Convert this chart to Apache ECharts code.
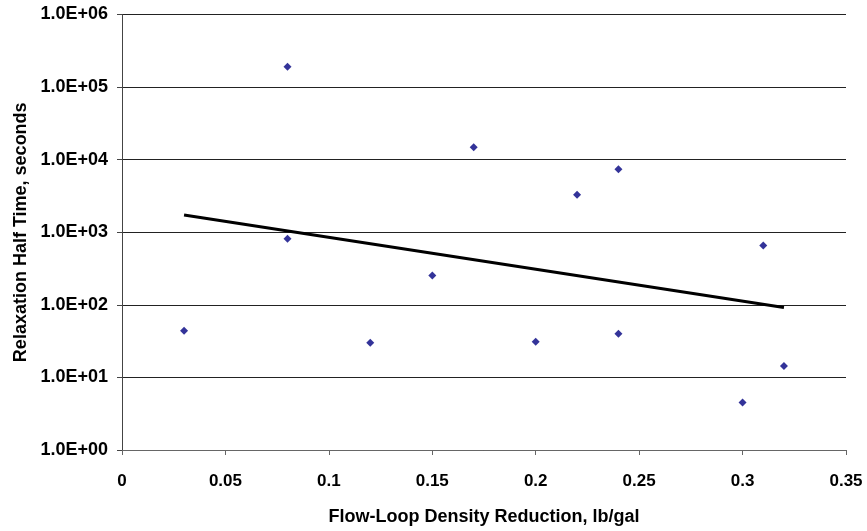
<!DOCTYPE html>
<html>
<head>
<meta charset="utf-8">
<script src="https://cdn.jsdelivr.net/npm/echarts@6/dist/echarts.min.js"></script>
<style>
  html, body { margin: 0; padding: 0; background: #fff; }
  #chart { width: 867px; height: 531px; }
</style>
</head>
<body>
<div id="chart"></div>
<script>
// Flow-loop density reduction (lb/gal) and measured relaxation half time (s)
const densityReduction = [0.03, 0.08, 0.08, 0.12, 0.15, 0.17, 0.20, 0.22, 0.24, 0.24, 0.30, 0.31, 0.32];
const halfTime = [44, 190000, 815, 30, 253, 14800, 31, 3290, 7400, 40, 4.5, 655, 14.4];

const xTitle = 'Flow-Loop Density Reduction, lb/gal';
const yTitle = 'Relaxation Half Time, seconds';

// Exponential trend: least-squares fit of log10(t) against x
function expTrend(xs, ys) {
  const n = xs.length;
  const ly = ys.map(v => Math.log10(v));
  const mx = xs.reduce((a, b) => a + b, 0) / n;
  const my = ly.reduce((a, b) => a + b, 0) / n;
  let sxy = 0, sxx = 0;
  for (let i = 0; i < n; i++) {
    sxy += (xs[i] - mx) * (ly[i] - my);
    sxx += (xs[i] - mx) * (xs[i] - mx);
  }
  const slope = sxy / sxx;
  const icpt = my - slope * mx;
  const x0 = Math.min(...xs), x1 = Math.max(...xs);
  return [[x0, Math.pow(10, icpt + slope * x0)], [x1, Math.pow(10, icpt + slope * x1)]];
}

function sciLabel(v) {
  const e = Math.round(Math.log10(v));
  const m = (v / Math.pow(10, e)).toFixed(1);
  const sign = e < 0 ? '-' : '+';
  return m + 'E' + sign + String(Math.abs(e)).padStart(2, '0');
}

const font = '"Liberation Sans", Arial, sans-serif';
const chart = echarts.init(document.getElementById('chart'), null, { renderer: 'canvas' });

chart.setOption({
  animation: false,
  backgroundColor: '#ffffff',
  grid: { left: 122, right: 21, top: 14.5, bottom: 80, containLabel: false },
  xAxis: {
    type: 'value',
    min: 0,
    max: 0.35,
    interval: 0.05,
    name: xTitle,
    nameLocation: 'middle',
    nameGap: 58,
    nameTextStyle: { fontFamily: font, fontWeight: 'bold', fontSize: 18, color: '#000' },
    axisLine: { show: true, lineStyle: { color: '#666', width: 1 } },
    axisTick: { show: true, inside: false, length: 5, lineStyle: { color: '#666' } },
    axisLabel: {
      margin: 23,
      fontFamily: font, fontWeight: 'bold', fontSize: 17, color: '#000',
      formatter: v => String(+v.toFixed(2))
    },
    splitLine: { show: false }
  },
  yAxis: {
    type: 'log',
    logBase: 10,
    min: 1,
    max: 1000000,
    splitNumber: 6,
    name: yTitle,
    nameLocation: 'middle',
    nameGap: 88,
    nameRotate: 90,
    nameTextStyle: { fontFamily: font, fontWeight: 'bold', fontSize: 18, color: '#000' },
    axisLine: { show: true, lineStyle: { color: '#444', width: 1 } },
    axisTick: { show: true, inside: false, length: 5, lineStyle: { color: '#444' } },
    axisLabel: {
      margin: 14,
      fontFamily: font, fontWeight: 'bold', fontSize: 18, color: '#000',
      formatter: sciLabel
    },
    minorTick: { show: false },
    splitLine: { show: true, lineStyle: { color: '#222', width: 1 } }
  },
  series: [
    {
      type: 'line',
      data: expTrend(densityReduction, halfTime),
      showSymbol: false,
      symbol: 'none',
      lineStyle: { color: '#000', width: 3 },
      z: 3,
      silent: true
    },
    {
      type: 'scatter',
      data: densityReduction.map((x, i) => [x, halfTime[i]]),
      symbol: 'diamond',
      symbolSize: 8,
      itemStyle: { color: '#000080' },
      z: 4
    }
  ]
});
</script>
</body>
</html>
